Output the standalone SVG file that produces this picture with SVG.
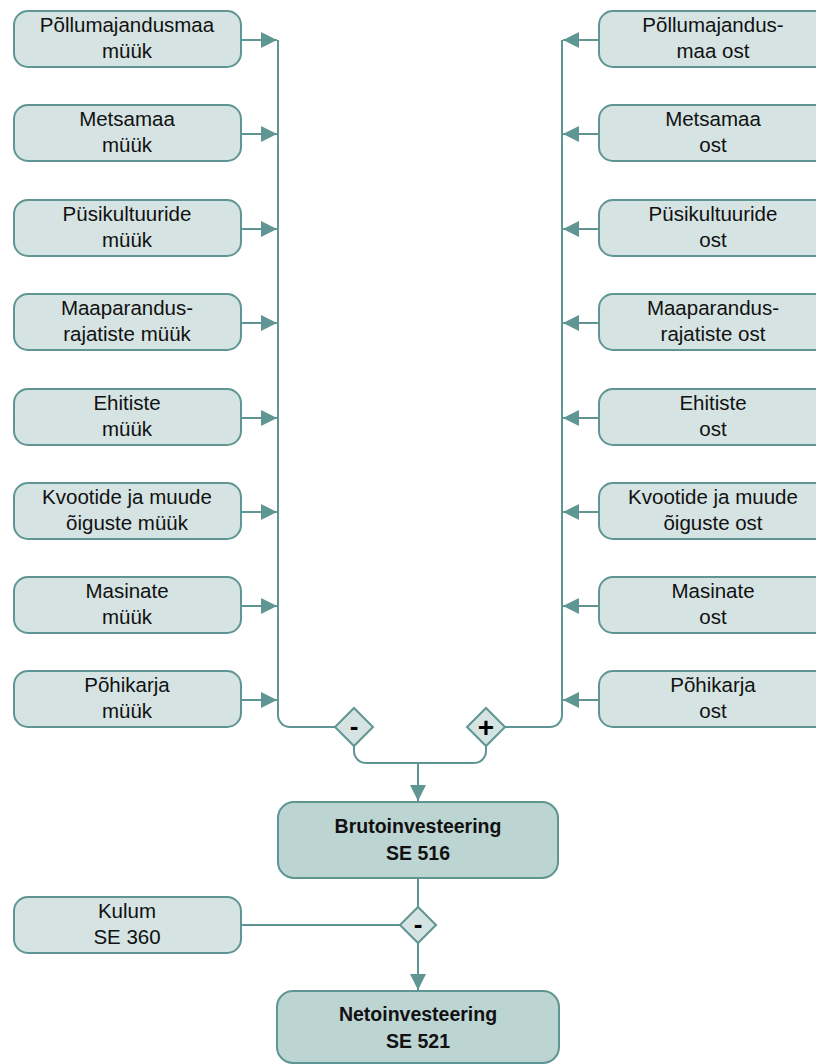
<svg xmlns="http://www.w3.org/2000/svg" width="816" height="1064" viewBox="0 0 816 1064">
<defs>
<style>
.n{fill:#d5e3e2;stroke:#5f9593;stroke-width:2}
.m{fill:#bcd4d2;stroke:#5f9593;stroke-width:2}
.c{fill:none;stroke:#5f9593;stroke-width:2}
.t{font-family:"Liberation Sans",Arial,sans-serif;font-size:20.5px;fill:#111;text-anchor:middle}
.b{font-family:"Liberation Sans",Arial,sans-serif;font-size:19.5px;font-weight:bold;fill:#111;text-anchor:middle}
.s{font-family:"Liberation Sans",Arial,sans-serif;font-weight:bold;fill:#000;text-anchor:middle}
</style>
<marker id="ah" markerUnits="userSpaceOnUse" markerWidth="18" markerHeight="16" refX="16" refY="8" orient="auto">
<path d="M0,0 L16,8 L0,16 Z" fill="#5f9593"/>
</marker>
</defs>
<rect width="816" height="1064" fill="#fff"/>
<g id="connectors">
<path class="c" d="M241,40 H277" marker-end="url(#ah)"/>
<path class="c" d="M241,134 H277" marker-end="url(#ah)"/>
<path class="c" d="M241,229 H277" marker-end="url(#ah)"/>
<path class="c" d="M241,323 H277" marker-end="url(#ah)"/>
<path class="c" d="M241,418 H277" marker-end="url(#ah)"/>
<path class="c" d="M241,512 H277" marker-end="url(#ah)"/>
<path class="c" d="M241,606 H277" marker-end="url(#ah)"/>
<path class="c" d="M241,700 H277" marker-end="url(#ah)"/>
<path class="c" d="M599,40 H563" marker-end="url(#ah)"/>
<path class="c" d="M599,134 H563" marker-end="url(#ah)"/>
<path class="c" d="M599,229 H563" marker-end="url(#ah)"/>
<path class="c" d="M599,323 H563" marker-end="url(#ah)"/>
<path class="c" d="M599,418 H563" marker-end="url(#ah)"/>
<path class="c" d="M599,512 H563" marker-end="url(#ah)"/>
<path class="c" d="M599,606 H563" marker-end="url(#ah)"/>
<path class="c" d="M599,700 H563" marker-end="url(#ah)"/>
<path class="c" d="M278,40 V715 A12,12 0 0 0 290,727 H335"/>
<path class="c" d="M562,40 V715 A12,12 0 0 1 550,727 H505"/>
<path class="c" d="M354,746 V751 A12,12 0 0 0 366,763 H474 A12,12 0 0 0 486,751 V746"/>
<path class="c" d="M418,763 V801" marker-end="url(#ah)"/>
<path class="c" d="M418,878 V907"/>
<path class="c" d="M241,925 H400"/>
<path class="c" d="M418,943 V990" marker-end="url(#ah)"/>
</g>
<g id="l1"><rect class="n" x="14" y="11" width="227" height="56" rx="14"/><text class="t" x="127" y="32">Põllumajandusmaa</text><text class="t" x="127" y="58">müük</text></g>
<g id="l2"><rect class="n" x="14" y="105" width="227" height="56" rx="14"/><text class="t" x="127" y="126">Metsamaa</text><text class="t" x="127" y="152">müük</text></g>
<g id="l3"><rect class="n" x="14" y="200" width="227" height="56" rx="14"/><text class="t" x="127" y="221">Püsikultuuride</text><text class="t" x="127" y="247">müük</text></g>
<g id="l4"><rect class="n" x="14" y="294" width="227" height="56" rx="14"/><text class="t" x="127" y="315">Maaparandus-</text><text class="t" x="127" y="341">rajatiste müük</text></g>
<g id="l5"><rect class="n" x="14" y="389" width="227" height="56" rx="14"/><text class="t" x="127" y="410">Ehitiste</text><text class="t" x="127" y="436">müük</text></g>
<g id="l6"><rect class="n" x="14" y="483" width="227" height="56" rx="14"/><text class="t" x="127" y="504">Kvootide ja muude</text><text class="t" x="127" y="530">õiguste müük</text></g>
<g id="l7"><rect class="n" x="14" y="577" width="227" height="56" rx="14"/><text class="t" x="127" y="598">Masinate</text><text class="t" x="127" y="624">müük</text></g>
<g id="l8"><rect class="n" x="14" y="671" width="227" height="56" rx="14"/><text class="t" x="127" y="692">Põhikarja</text><text class="t" x="127" y="718">müük</text></g>
<g id="r1"><rect class="n" x="599" y="11" width="232" height="56" rx="14"/><text class="t" x="713" y="32">Põllumajandus-</text><text class="t" x="713" y="58">maa ost</text></g>
<g id="r2"><rect class="n" x="599" y="105" width="232" height="56" rx="14"/><text class="t" x="713" y="126">Metsamaa</text><text class="t" x="713" y="152">ost</text></g>
<g id="r3"><rect class="n" x="599" y="200" width="232" height="56" rx="14"/><text class="t" x="713" y="221">Püsikultuuride</text><text class="t" x="713" y="247">ost</text></g>
<g id="r4"><rect class="n" x="599" y="294" width="232" height="56" rx="14"/><text class="t" x="713" y="315">Maaparandus-</text><text class="t" x="713" y="341">rajatiste ost</text></g>
<g id="r5"><rect class="n" x="599" y="389" width="232" height="56" rx="14"/><text class="t" x="713" y="410">Ehitiste</text><text class="t" x="713" y="436">ost</text></g>
<g id="r6"><rect class="n" x="599" y="483" width="232" height="56" rx="14"/><text class="t" x="713" y="504">Kvootide ja muude</text><text class="t" x="713" y="530">õiguste ost</text></g>
<g id="r7"><rect class="n" x="599" y="577" width="232" height="56" rx="14"/><text class="t" x="713" y="598">Masinate</text><text class="t" x="713" y="624">ost</text></g>
<g id="r8"><rect class="n" x="599" y="671" width="232" height="56" rx="14"/><text class="t" x="713" y="692">Põhikarja</text><text class="t" x="713" y="718">ost</text></g>
<g id="d1"><path class="n" d="M354,708 L373,727 L354,746 L335,727 Z"/><text class="s" x="354" y="735" font-size="26">-</text></g>
<g id="d2"><path class="n" d="M486,708 L505,727 L486,746 L467,727 Z"/><text class="s" x="486" y="737" font-size="28">+</text></g>
<g id="bruto"><rect class="m" x="278" y="802" width="280" height="76" rx="16"/><text class="b" x="418" y="833">Brutoinvesteering</text><text class="b" x="418" y="860">SE 516</text></g>
<g id="kulum"><rect class="n" x="14" y="897" width="227" height="56" rx="14"/><text class="t" x="127" y="918">Kulum</text><text class="t" x="127" y="944">SE 360</text></g>
<g id="d3"><path class="n" d="M418,907 L436,925 L418,943 L400,925 Z"/><text class="s" x="418" y="933" font-size="26">-</text></g>
<g id="neto"><rect class="m" x="277" y="991" width="282" height="72" rx="16"/><text class="b" x="418" y="1021">Netoinvesteering</text><text class="b" x="418" y="1048">SE 521</text></g>
</svg>
